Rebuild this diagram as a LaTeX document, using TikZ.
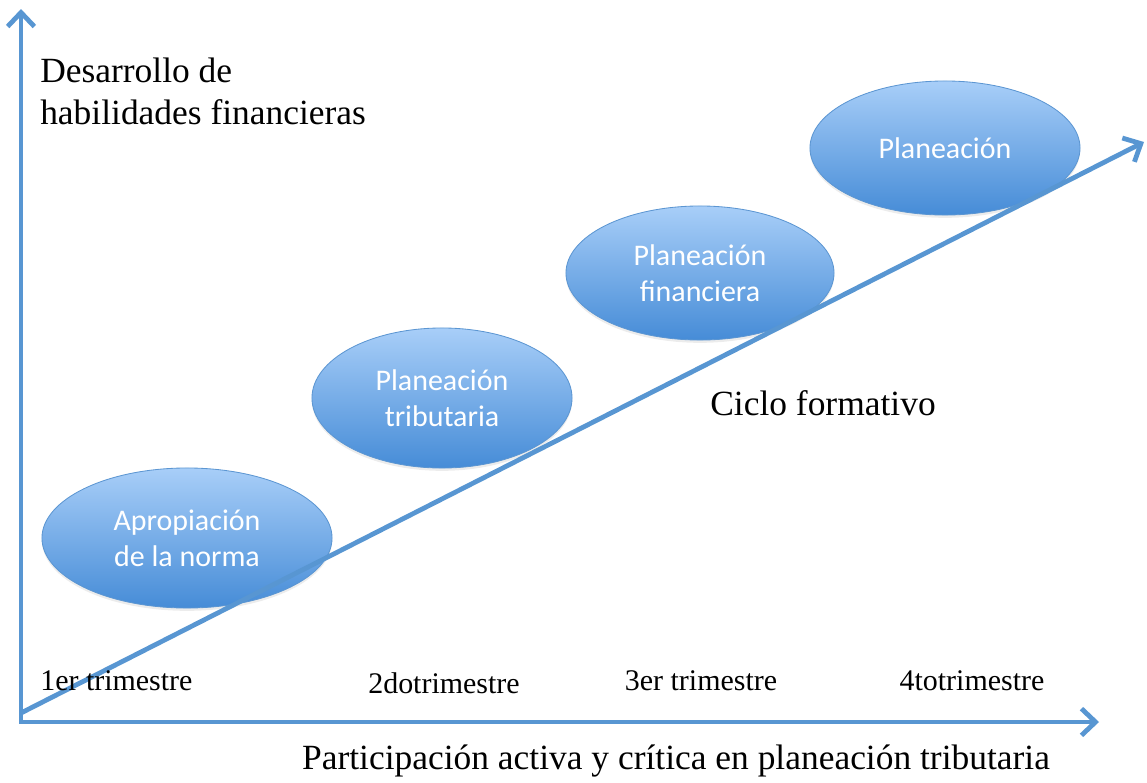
\documentclass[tikz,border=0pt]{standalone}
\usepackage{fontspec}
\setmainfont{Liberation Serif}
\newfontfamily\ovalfont{Carlito}
\usetikzlibrary{arrows.meta, shapes.geometric, shadows}
\usetikzlibrary{positioning}

\definecolor{axisblue}{RGB}{88,150,210}
\definecolor{ovaltop}{RGB}{168,206,248}
\definecolor{ovalbot}{RGB}{70,140,215}
\definecolor{ovaledge}{RGB}{92,150,210}

\tikzset{
    axis/.style={line width=3.4pt, draw=axisblue, line join=miter},
    barb/.style={-{Straight Barb[length=10pt, width=19pt]}},
    oval/.style={ellipse, draw=ovaledge, line width=0.6pt, top color=ovaltop, bottom color=ovalbot,
        drop shadow={shadow xshift=0pt, shadow yshift=-2pt, opacity=0.15, fill=black!50},
        text=white, font=\ovalfont\fontsize{21.3}{25.6}\selectfont, align=center, inner sep=0pt},
    bigtext/.style={font=\fontsize{25.2}{29.9}\selectfont, inner sep=0pt},
    termtext/.style={font=\fontsize{21.3}{25}\selectfont, inner sep=0pt, anchor=base}
}

\begin{document}
\begin{tikzpicture}[x=0.025cm, y=-0.025cm]
    \useasboundingbox (0,0) rectangle (1147,783);
    % etapas del ciclo
    \node[oval, minimum width=7.25cm, minimum height=3.5cm] (norma) at (187,538) {Apropiación\\de la norma};
    \node[oval, minimum width=6.5cm, minimum height=3.5cm] (tributaria) at (442,398) {Planeación\\tributaria};
    \node[oval, minimum width=6.7cm, minimum height=3.35cm] (financiera) at (700,273) {Planeación\\financiera};
    \node[oval, minimum width=6.75cm, minimum height=3.35cm] (planeacion) at (945,148) {Planeación};
    % ejes
    \coordinate (origen) at (21,722);
    \coordinate (ytop) at (21,9);
    \coordinate (xend) at (1099,722);
    \coordinate (inicio) at (21,713);
    \coordinate (fin) at (1144,142);
    \draw[axis, {Straight Barb[length=10pt, width=19pt]}-{Straight Barb[length=10pt, width=19pt]}] (ytop) -- (origen) -- (xend);
    \draw[axis, barb] (inicio) -- (fin);
    % textos
    \node[bigtext, anchor=north west, align=left] (ytitle) at (40,58) {Desarrollo de\\habilidades financieras};
    \node[bigtext, anchor=base] (xtitle) at (676,769) {Participación activa y crítica en planeación tributaria};
    \node[bigtext, anchor=base] (ciclo) at (823,415) {Ciclo formativo};
    \node[termtext, anchor=base west] (t1) at (40,690) {1er trimestre};
    \node[termtext] (t2) at (444,693) {2dotrimestre};
    \node[termtext] (t3) at (701,690) {3er trimestre};
    \node[termtext] (t4) at (972,690) {4totrimestre};
\end{tikzpicture}
\end{document}
